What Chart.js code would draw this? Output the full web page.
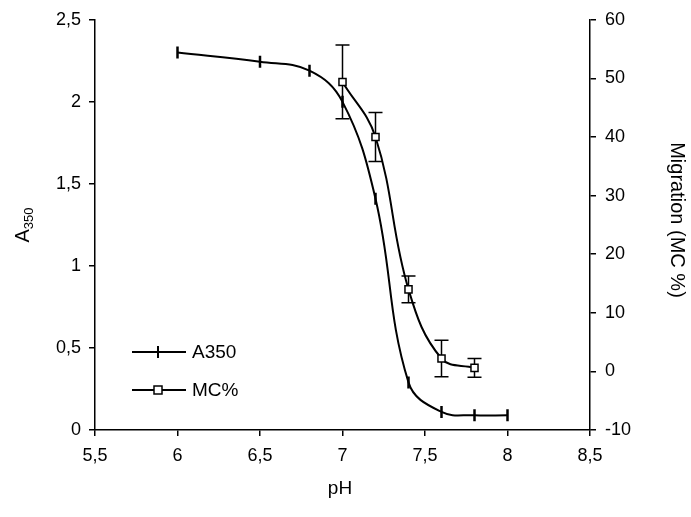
<!DOCTYPE html>
<html lang="en">
<head>
  <meta charset="UTF-8">
  <title>A350 and migration vs pH</title>
  <script src="https://cdn.jsdelivr.net/npm/chart.js"></script>
  <style>
    * { margin: 0; padding: 0; box-sizing: border-box; }
    body { background: #fff; width: 691px; height: 517px; overflow: hidden; }
    canvas { display: block; }
  </style>
</head>
<body>
  <canvas id="chart" width="691" height="517"></canvas>

  <script>
    // A350 (left axis)
    const phA350 = [6.0, 6.5, 6.8, 7.0, 7.2, 7.4, 7.6, 7.8, 8.0];
    const a350 = [2.30, 2.245, 2.19, 2.0, 1.41, 0.29, 0.11, 0.09, 0.09];

    // migration MC % (right axis) with error bars
    const phMC = [7.0, 7.2, 7.4, 7.6, 7.8];
    const mc = [49.4, 40.0, 14.0, 2.2, 0.6];
    const mcErr = [6.3, 4.2, 2.3, 3.1, 1.6];

    const FONT = "'Liberation Sans', Arial, sans-serif";
    const comma = v => String(v).replace('.', ',');

    // error bars for MC%, drawn under the markers
    const errorBars = {
      id: 'errorBars',
      beforeDatasetsDraw(chart) {
        const ctx = chart.ctx;
        const x = chart.scales.x, y2 = chart.scales.y2;
        ctx.save();
        ctx.strokeStyle = '#000';
        ctx.lineWidth = 1.5;
        phMC.forEach((p, i) => {
          const px = x.getPixelForValue(p);
          const top = y2.getPixelForValue(mc[i] + mcErr[i]);
          const bot = y2.getPixelForValue(mc[i] - mcErr[i]);
          ctx.beginPath();
          ctx.moveTo(px, top); ctx.lineTo(px, bot);
          ctx.moveTo(px - 7, top); ctx.lineTo(px + 7, top);
          ctx.moveTo(px - 7, bot); ctx.lineTo(px + 7, bot);
          ctx.stroke();
        });
        ctx.restore();
      }
    };

    // legend inside plot + axis titles
    const extras = {
      id: 'extras',
      afterDraw(chart) {
        const ctx = chart.ctx;
        ctx.save();
        ctx.strokeStyle = '#000';
        ctx.fillStyle = '#000';
        ctx.lineWidth = 2;

        // legend: A350
        ctx.beginPath();
        ctx.moveTo(132, 352); ctx.lineTo(186, 352);
        ctx.moveTo(158, 346); ctx.lineTo(158, 358);
        ctx.stroke();
        // legend: MC%
        ctx.beginPath();
        ctx.moveTo(132, 390); ctx.lineTo(186, 390);
        ctx.stroke();
        ctx.lineWidth = 1.5;
        ctx.fillStyle = '#fff';
        ctx.fillRect(154, 386, 8, 8);
        ctx.strokeRect(154, 386, 8, 8);

        ctx.fillStyle = '#000';
        ctx.font = '19px ' + FONT;
        ctx.textBaseline = 'middle';
        ctx.textAlign = 'left';
        ctx.fillText('A350', 192, 353);
        ctx.fillText('MC%', 192, 391);

        // x title
        ctx.textAlign = 'center';
        ctx.fillText('pH', 340, 489);

        // left title A with subscript 350
        ctx.save();
        ctx.translate(23, 225);
        ctx.rotate(-Math.PI / 2);
        ctx.textAlign = 'left';
        ctx.textBaseline = 'alphabetic';
        ctx.font = '20px ' + FONT;
        const wA = ctx.measureText('A').width;
        ctx.font = '13px ' + FONT;
        const wS = ctx.measureText('350').width;
        const start = -(wA + wS) / 2;
        ctx.font = '20px ' + FONT;
        ctx.fillText('A', start, 6);
        ctx.font = '13px ' + FONT;
        ctx.fillText('350', start + wA, 10);
        ctx.restore();

        // right title
        ctx.save();
        ctx.translate(677, 220);
        ctx.rotate(Math.PI / 2);
        ctx.textAlign = 'center';
        ctx.textBaseline = 'middle';
        ctx.font = '20px ' + FONT;
        ctx.fillText('Migration (MC %)', 0, 0);
        ctx.restore();

        ctx.restore();
      }
    };

    const axisCommon = {
      grid: { display: true, drawOnChartArea: false, drawTicks: true, tickLength: 6, color: '#000', lineWidth: 1.5 },
      border: { display: true, color: '#000', width: 1.5 },
      ticks: { color: '#000', font: { family: FONT, size: 18 } }
    };

    new Chart(document.getElementById('chart'), {
      type: 'line',
      data: {
        datasets: [
          {
            label: 'A350',
            data: phA350.map((p, i) => ({ x: p, y: a350[i] })),
            yAxisID: 'y',
            borderColor: '#000',
            borderWidth: 2,
            tension: 0.4,
            pointStyle: 'line',
            rotation: 90,
            pointRadius: 6,
            pointBorderWidth: 2.5,
            pointBorderColor: '#000',
            fill: false
          },
          {
            label: 'MC%',
            data: phMC.map((p, i) => ({ x: p, y: mc[i] })),
            yAxisID: 'y2',
            borderColor: '#000',
            borderWidth: 2,
            tension: 0.4,
            pointStyle: 'rect',
            pointRadius: 5,
            pointBorderWidth: 1.5,
            pointBorderColor: '#000',
            pointBackgroundColor: '#fff',
            fill: false
          }
        ]
      },
      options: {
        responsive: false,
        animation: false,
        devicePixelRatio: 1,
        layout: { padding: { top: 19, left: 0, right: 0, bottom: 0 } },
        plugins: { legend: { display: false }, tooltip: { enabled: false } },
        scales: {
          x: {
            type: 'linear',
            min: 5.5, max: 8.5,
            ...axisCommon,
            ticks: { ...axisCommon.ticks, stepSize: 0.5, padding: 9, maxRotation: 0, callback: v => comma(v) },
            afterFit: s => { s.height = 87; }
          },
          y: {
            position: 'left',
            min: 0, max: 2.5,
            ...axisCommon,
            ticks: { ...axisCommon.ticks, stepSize: 0.5, padding: 8, callback: v => comma(v) },
            afterFit: s => { s.width = 95; }
          },
          y2: {
            position: 'right',
            min: -10, max: 60,
            ...axisCommon,
            ticks: { ...axisCommon.ticks, stepSize: 10, padding: 9 },
            afterFit: s => { s.width = 101; }
          }
        }
      },
      plugins: [errorBars, extras]
    });
  </script>
</body>
</html>
